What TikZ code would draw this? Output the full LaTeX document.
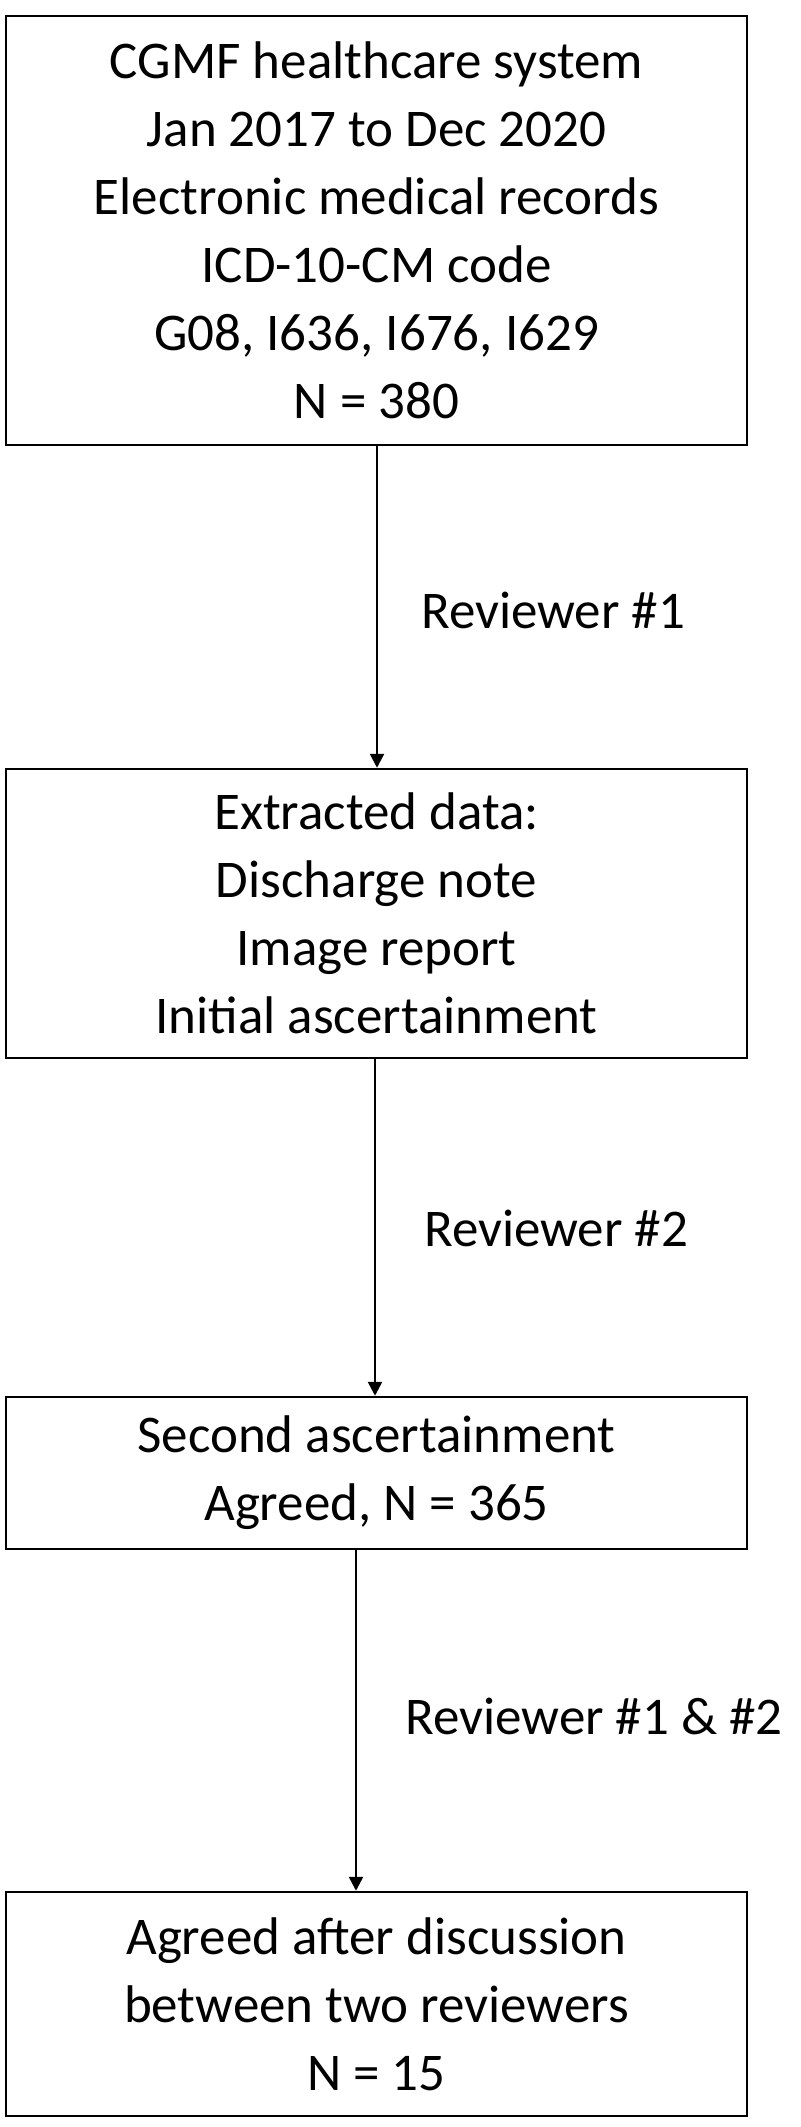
\documentclass[tikz,border=0pt]{standalone}
\usepackage{fontspec}
\setmainfont{Carlito}
\usetikzlibrary{positioning,arrows.meta}

\tikzset{
  stage/.style={draw,line width=2.5pt,minimum width=741pt,align=center,
    font=\fontsize{53}{68}\selectfont,inner sep=0pt},
  flow/.style={-{Triangle[length=14pt,width=14pt]},line width=2.5pt},
  reviewer/.style={font=\fontsize{53}{68}\selectfont}
}

\begin{document}
\begin{tikzpicture}[x=1pt,y=-1pt]
  \useasboundingbox (0,0) rectangle (800,2127);

  \node [stage,minimum height=429pt] (records) at (376.5,230.5) {CGMF healthcare system\\Jan 2017 to Dec 2020\\Electronic medical records\\ICD-10-CM code\\G08, I636, I676, I629\\N = 380};
  \node [stage,minimum height=289pt] (extract) at (376.5,913.5) {Extracted data:\\Discharge note\\Image report\\Initial ascertainment};
  \node [stage,minimum height=152pt] (second) at (376.5,1473) {Second ascertainment\\Agreed, N = 365};
  \node [stage,minimum height=224pt] (final) at (376.5,2004) {Agreed after discussion\\between two reviewers\\N = 15};

  \coordinate (a1) at (377,445);
  \coordinate (a2) at (375,1058);
  \coordinate (a3) at (356,1549);

  \draw [flow] (a1) -- (a1 |- extract.north);
  \draw [flow] (a2) -- (a2 |- second.north);
  \draw [flow] (a3) -- (a3 |- final.north);

  \node [reviewer] (rev1) at (553,610) {Reviewer \#1};
  \node [reviewer] (rev2) at (556,1228) {Reviewer \#2};
  \node [reviewer] (rev12) at (594,1716) {Reviewer \#1 \& \#2};
\end{tikzpicture}
\end{document}
